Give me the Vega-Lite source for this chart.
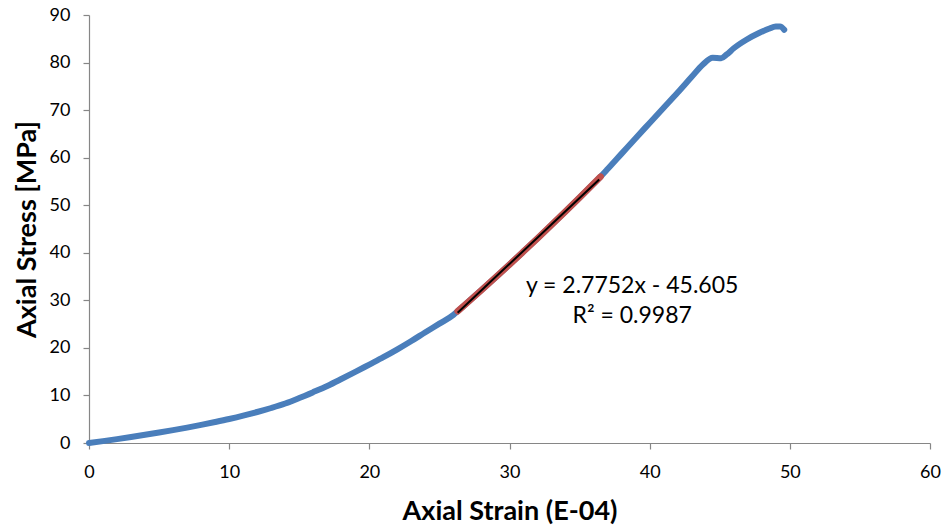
{
  "$schema": "https://vega.github.io/schema/vega-lite/v6.json",
  "width": 841,
  "height": 428,
  "autosize": {"type": "none"},
  "padding": {"left": 89, "top": 15, "right": 15, "bottom": 88},
  "background": "white",
  "config": {
    "view": {"stroke": null},
    "font": "Lato",
    "axis": {
      "grid": false,
      "domainColor": "#868686",
      "tickColor": "#868686",
      "domainWidth": 1.2,
      "tickWidth": 1.2,
      "tickSize": 6,
      "labelFlush": false,
      "labelFont": "Lato",
      "labelFontSize": 18,
      "labelColor": "#000000",
      "titleFont": "Lato",
      "titleFontSize": 27,
      "titleFontWeight": "bold",
      "titleColor": "#000000"
    }
  },
  "datasets": {
    "curve": [
      {"strain": 0, "stress": 0},
      {"strain": 1, "stress": 0.4},
      {"strain": 2, "stress": 0.82},
      {"strain": 3, "stress": 1.26},
      {"strain": 4, "stress": 1.72},
      {"strain": 5, "stress": 2.2},
      {"strain": 6, "stress": 2.7},
      {"strain": 7, "stress": 3.23},
      {"strain": 8, "stress": 3.8},
      {"strain": 9, "stress": 4.41},
      {"strain": 10, "stress": 5.05},
      {"strain": 11, "stress": 5.75},
      {"strain": 12, "stress": 6.52},
      {"strain": 13, "stress": 7.36},
      {"strain": 14, "stress": 8.3},
      {"strain": 15, "stress": 9.45},
      {"strain": 16, "stress": 10.7},
      {"strain": 17, "stress": 12.0},
      {"strain": 18, "stress": 13.45},
      {"strain": 19, "stress": 14.95},
      {"strain": 20, "stress": 16.5},
      {"strain": 21, "stress": 18.05},
      {"strain": 22, "stress": 19.7},
      {"strain": 23, "stress": 21.45},
      {"strain": 24, "stress": 23.3},
      {"strain": 25, "stress": 25.1},
      {"strain": 26, "stress": 26.95},
      {"strain": 26.3, "stress": 27.71},
      {"strain": 27, "stress": 29.53},
      {"strain": 28, "stress": 32.16},
      {"strain": 29, "stress": 34.82},
      {"strain": 30, "stress": 37.52},
      {"strain": 31, "stress": 40.27},
      {"strain": 32, "stress": 43.04},
      {"strain": 33, "stress": 45.86},
      {"strain": 34, "stress": 48.71},
      {"strain": 35, "stress": 51.61},
      {"strain": 36, "stress": 54.54},
      {"strain": 36.5, "stress": 56.02},
      {"strain": 37, "stress": 57.6},
      {"strain": 38, "stress": 60.85},
      {"strain": 39, "stress": 64.1},
      {"strain": 40, "stress": 67.3},
      {"strain": 41, "stress": 70.5},
      {"strain": 42, "stress": 73.7},
      {"strain": 43, "stress": 77.0},
      {"strain": 43.8, "stress": 79.6},
      {"strain": 44.5, "stress": 81.0},
      {"strain": 45.1, "stress": 80.9},
      {"strain": 45.5, "stress": 81.7},
      {"strain": 46, "stress": 83.0},
      {"strain": 46.9, "stress": 84.8},
      {"strain": 47.8, "stress": 86.2},
      {"strain": 48.5, "stress": 87.1},
      {"strain": 49.0, "stress": 87.6},
      {"strain": 49.3, "stress": 87.6},
      {"strain": 49.6, "stress": 86.9}
    ],
    "fitrange": [
      {"strain": 26.3, "stress": 27.71},
      {"strain": 27, "stress": 29.53},
      {"strain": 28, "stress": 32.16},
      {"strain": 29, "stress": 34.82},
      {"strain": 30, "stress": 37.52},
      {"strain": 31, "stress": 40.27},
      {"strain": 32, "stress": 43.04},
      {"strain": 33, "stress": 45.86},
      {"strain": 34, "stress": 48.71},
      {"strain": 35, "stress": 51.61},
      {"strain": 36, "stress": 54.54},
      {"strain": 36.5, "stress": 56.02}
    ],
    "trend": [
      {"strain": 26.3, "stress": 27.38},
      {"strain": 36.4, "stress": 55.41}
    ],
    "labels": [
      {"strain": 38.75, "stress": 31.54, "text": "y = 2.7752x - 45.605"},
      {"strain": 38.75, "stress": 25.23, "text": "R² = 0.9987"}
    ]
  },
  "layer": [
    {
      "data": {"name": "curve"},
      "mark": {"type": "line", "color": "#4A7EBB", "strokeWidth": 6, "strokeCap": "round", "strokeJoin": "round", "interpolate": "monotone"},
      "encoding": {
        "x": {"field": "strain", "type": "quantitative", "scale": {"domain": [0, 60], "nice": false}, "axis": {"values": [0, 10, 20, 30, 40, 50, 60], "title": "Axial Strain (E-04)", "labelPadding": 14, "titlePadding": 17}},
        "y": {"field": "stress", "type": "quantitative", "scale": {"domain": [0, 90], "nice": false}, "axis": {"values": [0, 10, 20, 30, 40, 50, 60, 70, 80, 90], "title": "Axial Stress [MPa]", "labelPadding": 13, "titlePadding": 8}}
      }
    },
    {
      "data": {"name": "fitrange"},
      "mark": {"type": "line", "color": "#C0504D", "strokeWidth": 6.5, "strokeCap": "round", "strokeJoin": "round", "interpolate": "monotone"},
      "encoding": {
        "x": {"field": "strain", "type": "quantitative"},
        "y": {"field": "stress", "type": "quantitative"}
      }
    },
    {
      "data": {"name": "trend"},
      "mark": {"type": "line", "color": "#000000", "strokeWidth": 2},
      "encoding": {
        "x": {"field": "strain", "type": "quantitative"},
        "y": {"field": "stress", "type": "quantitative"}
      }
    },
    {
      "data": {"name": "labels"},
      "mark": {"type": "text", "font": "Lato", "fontSize": 23, "align": "center", "baseline": "alphabetic", "color": "#000000"},
      "encoding": {
        "x": {"field": "strain", "type": "quantitative"},
        "y": {"field": "stress", "type": "quantitative"},
        "text": {"field": "text", "type": "nominal"}
      }
    }
  ]
}
